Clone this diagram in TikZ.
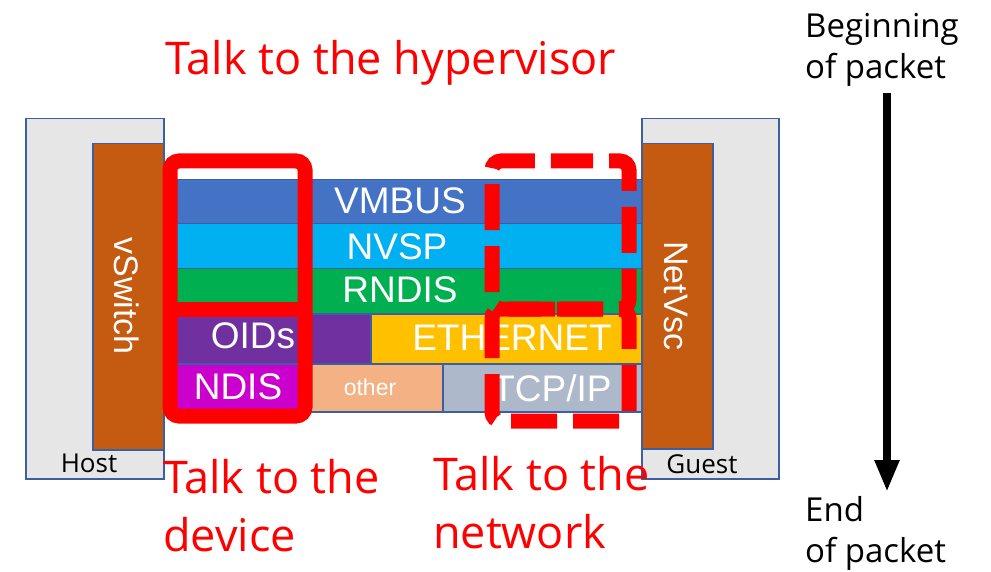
\documentclass[tikz,border=0pt]{standalone}
\usepackage{fontspec}
\setmainfont{Open Sans}
\newfontfamily\arialf{Liberation Sans}
\usetikzlibrary{arrows.meta}

\definecolor{edgeblue}{HTML}{3B5FA0}
\definecolor{panelgray}{HTML}{E7E6E6}
\definecolor{rust}{HTML}{C55A11}
\definecolor{cvmbus}{HTML}{4472C4}
\definecolor{cnvsp}{HTML}{00B0F0}
\definecolor{crndis}{HTML}{00B050}
\definecolor{coid}{HTML}{7030A0}
\definecolor{cndis}{HTML}{CC00CC}
\definecolor{ceth}{HTML}{FFC000}
\definecolor{cother}{HTML}{F4B183}
\definecolor{ctcp}{HTML}{ADB9CA}
\definecolor{hot}{HTML}{FF0000}

\begin{document}
\begin{tikzpicture}[x=1pt,y=-1pt,
  panel/.style={draw=edgeblue, line width=1.5pt, fill=panelgray, anchor=north west, inner sep=0},
  driver/.style={draw=edgeblue, line width=1.5pt, fill=rust, anchor=north west, inner sep=0},
  layer/.style={draw=edgeblue, line width=1.5pt, anchor=north west, inner sep=0},
  lbl/.style={text=white, inner sep=0, font=\arialf\fontsize{37}{37}\selectfont},
  vlbl/.style={text=white, inner sep=0, rotate=-90, font=\arialf\fontsize{34}{34}\selectfont},
  redtxt/.style={text=hot, inner sep=0, align=left, font=\fontsize{45}{58}\selectfont},
  blacktxt/.style={text=black, inner sep=0, align=left, font=\fontsize{33}{41}\selectfont},
  sidetxt/.style={text=black, inner sep=0, font=\fontsize{26}{26}\selectfont},
  frame/.style={draw=hot, line width=15pt, rounded corners=9pt},
  dframe/.style={frame, dash pattern=on 46pt off 16pt}
]
\useasboundingbox (0,0) rectangle (991,572);

% host and guest panels with their driver bars
\node[panel, minimum width=138pt, minimum height=360pt] (host) at (25,118) {};
\node[panel, minimum width=137pt, minimum height=360pt] (guest) at (641,118) {};
\node[driver, minimum width=71pt, minimum height=306pt] (vswitch) at (92,143) {};
\node[driver, minimum width=71pt, minimum height=305pt] (netvsc) at (641,143) {};
\node[vlbl] (vswitch-t) at (127,296) {vSwitch};
\node[vlbl] (netvsc-t) at (676,296) {NetVsc};
\node[sidetxt, anchor=base] (host-t) at (89,472) {Host};
\node[sidetxt, anchor=base] (guest-t) at (702,473) {Guest};

% protocol layers
\node[layer, fill=cvmbus, minimum width=478pt, minimum height=44pt] (vmbus) at (163,179) {};
\node[layer, fill=cnvsp, minimum width=478pt, minimum height=45pt] (nvsp) at (163,223) {};
\node[layer, fill=crndis, minimum width=478pt, minimum height=45pt] (rndis) at (163,268) {};
\node[layer, fill=coid, minimum width=207pt, minimum height=50pt] (oids) at (163,313) {};
\node[layer, fill=ceth, minimum width=271pt, minimum height=50pt] (eth) at (370,313) {};
\node[layer, fill=cndis, minimum width=147pt, minimum height=48pt] (ndis) at (163,363) {};
\node[layer, fill=cother, minimum width=132pt, minimum height=48pt] (other) at (310,363) {};
\node[layer, fill=ctcp, minimum width=199pt, minimum height=48pt] (tcp) at (442,363) {};

\node[lbl] (vmbus-t) at (400,201) {VMBUS};
\node[lbl] (nvsp-t) at (397,247) {NVSP};
\node[lbl] (rndis-t) at (400,290) {RNDIS};
\node[lbl] (oids-t) at (253,336) {OIDs};
\node[lbl] (eth-t) at (512,338) {ETHERNET};
\node[lbl] (ndis-t) at (238,387) {NDIS};
\node[lbl, font=\arialf\fontsize{23}{23}\selectfont] (other-t) at (370,387) {other};
\node[lbl] (tcp-t) at (552,388) {TCP/IP};

% device-side grouping
\draw[frame] (170,161) rectangle (305,416);
\draw[hot, line width=15pt] (170,309) -- (305,309);

% network-side grouping: each outline starts mid-edge so every corner is rounded
\draw[dframe, dash phase=13pt] (560,161) -- (629,161) -- (629,309) -- (492,309) -- (492,161) -- (560,161);
\draw[dframe, dash phase=3pt] (560,309) -- (629,309) -- (629,421) -- (492,421) -- (492,309) -- (560,309);

% captions (base anchor sits on the last line)
\node[redtxt, anchor=base] (hyp) at (391,75) {Talk to the hypervisor};
\node[redtxt, anchor=base west] (dev) at (163,551) {Talk to the\\device};
\node[redtxt, anchor=base west] (net) at (433,548) {Talk to the\\network};

% packet direction
\node[blacktxt, anchor=base west] (begin) at (805,79) {Beginning\\of packet};
\node[blacktxt, anchor=base west] (end) at (805,562) {End\\of packet};
\coordinate (atop) at (887,93);
\coordinate (abot) at (887,492);
\draw[line width=8pt, -{Triangle[width=23pt,length=32pt]}] (atop) -- (abot);
\end{tikzpicture}
\end{document}
